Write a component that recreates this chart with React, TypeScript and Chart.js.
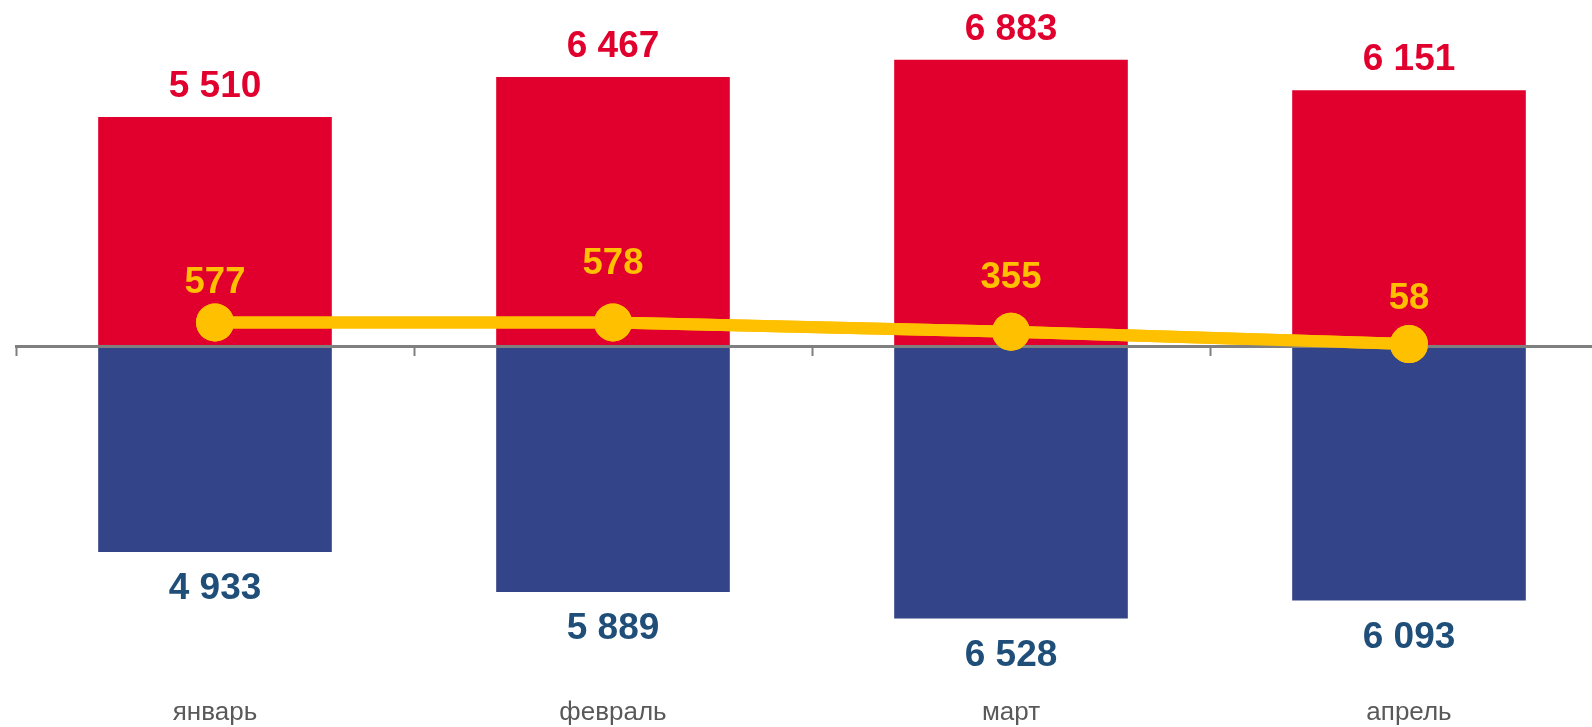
import React, { useEffect, useRef } from "react";
import { Chart, registerables } from "chart.js";

Chart.register(...registerables);

const categories = ["январь", "февраль", "март", "апрель"];
const incomeValues = [5510, 6467, 6883, 6151];
const expenseValues = [-4933, -5889, -6528, -6093];
const balanceValues = [577, 578, 355, 58];

// label placement (pixels above each point), as positioned in the source chart
const balanceLabelOffsets = [40, 58.5, 53.5, 45];

const RED = "#E1002D";
const BLUE_BAR = "#344488";
const BLUE_TEXT = "#1F4E79";
const YELLOW = "#FFC000";
const AXIS_GRAY = "#7F7F7F";
const LABEL_GRAY = "#595959";
const FONT = "'Liberation Sans', Arial, sans-serif";

const fmt = (n: number) =>
  Math.abs(n).toString().replace(/\B(?=(\d{3})+(?!\d))/g, " ");

const valueLabels = {
  id: "valueLabels",
  afterDraw(chart: any) {
    // redraw line above the zero axis
    const lineMeta = chart.getDatasetMeta(2);
    lineMeta.controller.draw();

    const ctx = chart.ctx;
    ctx.save();
    ctx.textAlign = "center";
    ctx.textBaseline = "middle";
    ctx.font = `bold 37px ${FONT}`;
    chart.getDatasetMeta(0).data.forEach((el: any, i: number) => {
      ctx.fillStyle = RED;
      ctx.fillText(fmt(incomeValues[i]), el.x, el.y - 30);
    });
    chart.getDatasetMeta(1).data.forEach((el: any, i: number) => {
      ctx.fillStyle = BLUE_TEXT;
      ctx.fillText(fmt(expenseValues[i]), el.x, el.y + 37);
    });
    ctx.font = `bold 36.5px ${FONT}`;
    lineMeta.data.forEach((el: any, i: number) => {
      ctx.fillStyle = YELLOW;
      ctx.fillText(fmt(balanceValues[i]), el.x, el.y - balanceLabelOffsets[i]);
    });
    ctx.restore();
  },
};

export default function App() {
  const ref = useRef<HTMLCanvasElement | null>(null);

  useEffect(() => {
    if (!ref.current) return;
    const chart = new Chart(ref.current, {
      type: "bar",
      data: {
        labels: categories,
        datasets: [
          {
            type: "bar",
            data: incomeValues,
            backgroundColor: RED,
            grouped: false,
            categoryPercentage: 1,
            barPercentage: 0.587,
            order: 1,
          } as any,
          {
            type: "bar",
            data: expenseValues,
            backgroundColor: BLUE_BAR,
            grouped: false,
            categoryPercentage: 1,
            barPercentage: 0.587,
            order: 1,
          } as any,
          {
            type: "line",
            data: balanceValues,
            borderColor: YELLOW,
            backgroundColor: YELLOW,
            borderWidth: 12,
            pointRadius: 19,
            pointBorderWidth: 0,
            pointBackgroundColor: YELLOW,
            tension: 0,
            order: 0,
          } as any,
        ],
      },
      options: {
        responsive: false,
        animation: false,
        devicePixelRatio: 1,
        layout: {
          autoPadding: false,
          padding: { left: 16, right: 0, top: 0, bottom: 0 },
        },
        plugins: {
          legend: { display: false },
          tooltip: { enabled: false },
        },
        scales: {
          x: {
            type: "category",
            offset: true,
            grid: { display: false, drawTicks: false },
            border: { display: false },
            ticks: {
              color: LABEL_GRAY,
              font: { family: FONT, size: 26 },
              padding: 4,
              maxRotation: 0,
            },
            afterFit: (s: any) => {
              s.height = 34;
            },
          },
          x2: {
            type: "category",
            labels: categories,
            position: { y: 0 } as any,
            offset: true,
            grid: {
              display: true,
              offset: true,
              drawOnChartArea: false,
              drawTicks: true,
              tickLength: 8,
              tickWidth: 2,
              tickColor: AXIS_GRAY,
              color: AXIS_GRAY,
              z: 1,
            } as any,
            border: { display: true, color: AXIS_GRAY, width: 3, z: 1 } as any,
            ticks: { display: false },
            afterFit: (s: any) => {
              s.height = 0;
            },
          },
          y: {
            display: false,
            min: -8316,
            max: 8317,
          },
        },
      },
      plugins: [valueLabels],
    });
    return () => chart.destroy();
  }, []);

  return (
    <div
      style={{
        position: "fixed",
        left: 0,
        top: 0,
        width: 1592,
        height: 727,
        overflow: "hidden",
        background: "#fff",
      }}
    >
      <canvas ref={ref} width={1608} height={727} style={{ display: "block" }} />
    </div>
  );
}
